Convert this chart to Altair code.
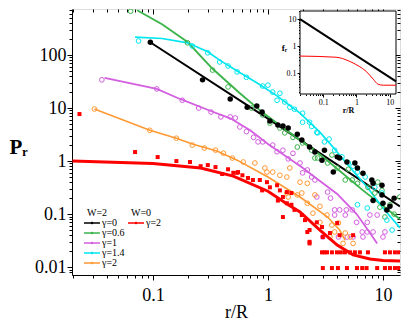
import altair as alt
import pandas as pd

# ---------------- main panel data ----------------
series_w2 = ["γ=0", "γ=0.6", "γ=1", "γ=1.4", "γ=2"]
colors_w2 = ["#000000", "#3cb44b", "#d35fe0", "#00e6ef", "#ff9933"]
widths_w2 = [2.0, 1.6, 1.6, 1.6, 1.6]
series_w0 = ["γ=2"]
colors_w0 = ["#ff0000"]

# gamma = 0 (black, filled)
bk_line_r = [0.094, 1.0, 14.06]
bk_line_v = [176, 6.3, 0.14]
bk_pts_r = [0.095, 0.27, 0.47, 0.66, 0.8, 0.89, 1.04, 1.22, 1.35, 1.5, 1.8, 1.97, 2.3, 2.56,
            2.95, 3.1, 3.7, 4.0, 4.2, 4.86, 5.7, 6.0, 6.7, 8.0, 8.2, 9.8, 9.8, 10.8, 8.2, 10.0,
            11.5, 12.5]
bk_pts_v = [175, 34, 14.8, 10.4, 10.9, 8.4, 5.7, 4.8, 4.6, 4.2, 3.2, 2.5, 1.84, 1.48,
            1.04, 1.6, 0.62, 1.2, 1.14, 0.96, 0.92, 0.74, 0.59, 0.44, 0.38, 0.35, 0.23, 0.12, 0.18, 0.16,
            0.14, 0.2]

# gamma = 0.6 (green, open)
gr_line_r = [0.073, 0.12, 0.2, 0.33, 0.57, 0.9, 1.5, 3.0, 6.7, 14.06]
gr_line_v = [700, 380, 176, 55, 19, 8.2, 3.6, 1.2, 0.28, 0.08]
gr_pts_r = [0.064, 0.2, 0.33, 0.45, 0.72, 0.9, 1.04, 1.27, 1.4, 1.65, 1.8, 2.0, 2.4, 2.56, 2.7,
            3.3, 4.0, 4.7, 5.4, 6.0, 7.4, 9.0, 9.8, 9.4, 10.4, 14.0, 3.6, 5.0, 8.5, 11.5, 12.5]
gr_pts_v = [670, 170, 52, 25, 10, 7.4, 5.2, 4.2, 3.4, 2.8, 1.84, 2.2, 1.6, 1.14, 1.14,
            0.92, 0.74, 0.44, 0.44, 0.38, 0.32, 0.4, 0.28, 0.135, 0.088, 0.21, 1.3, 0.7, 0.25, 0.15, 0.1]

# gamma = 1 (magenta, open)
mg_line_r = [0.038, 0.108, 0.17, 0.31, 0.47, 0.7, 1.0, 2.0, 2.83, 4.0, 5.9, 7.5, 8.9]
mg_line_v = [37, 23, 15, 9, 6.4, 3.8, 2.1, 0.75, 0.42, 0.24, 0.1, 0.048, 0.028]
mg_pts_r = [0.036, 0.108, 0.18, 0.25, 0.32, 0.39, 0.47, 0.52, 0.57, 0.82, 0.9, 1.1, 1.35, 1.65,
            1.9, 2.2, 2.56, 2.66, 3.3, 3.8, 4.2, 4.8, 5.4, 3.8, 4.7, 5.9, 7.3, 6.6, 7.3, 8.2,
            3.0, 4.1, 4.9, 5.5, 6.7, 10.0, 10.4, 8.9, 7.7, 0.65, 0.75, 1.2, 1.5, 2.0, 2.4, 3.5]
mg_pts_v = [34, 23, 14, 10, 8.4, 6.8, 6.8, 6.5, 4.4, 2.3, 2.3, 2.0, 1.6, 1.4,
            0.92, 0.68, 0.44, 0.21, 0.26, 0.12, 0.12, 0.12, 0.12, 0.096, 0.096, 0.07, 0.07, 0.046, 0.046, 0.046,
            0.037, 0.037, 0.037, 0.037, 0.037, 0.037, 0.046, 0.096, 0.096, 3.6, 2.8, 1.5, 1.1, 0.6, 0.5, 0.2]

# gamma = 1.4 (cyan, open)
cy_line_r = [0.07, 0.12, 0.2, 0.3, 0.38, 0.54, 0.8, 1.2, 1.9, 2.8, 3.7, 5.2, 7.3, 10.0, 14.06]
cy_line_v = [218, 205, 170, 115, 80, 50, 30, 17, 8, 3.6, 1.8, 0.75, 0.32, 0.13, 0.055]
cy_pts_r = [0.075, 0.22, 0.38, 0.54, 1.0, 1.2, 1.27, 1.55, 2.0, 2.0, 2.3, 2.66, 2.7, 3.1, 3.8,
            5.0, 6.0, 7.0, 8.5, 9.8, 6.0, 7.3, 10.8, 12.0, 0.3, 0.45, 0.65, 0.9, 1.1, 1.4,
            1.7, 2.4, 3.4, 4.4, 5.5]
cy_pts_v = [184, 148, 74, 48, 27, 14, 19, 10.4, 8.0, 5.4, 5.4, 3.5, 3.4, 2.3, 1.6,
            0.92, 0.62, 0.5, 0.32, 0.25, 0.15, 0.13, 0.077, 0.05, 110, 62, 38, 26, 20, 13,
            9.5, 4.5, 2.6, 1.2, 0.8]

# gamma = 2, W = 2 (orange, open)
or_line_r = [0.031, 0.094, 0.16, 0.22, 0.36, 0.54, 1.0, 1.9, 3.3, 4.2, 4.7]
or_line_v = [9.6, 3.8, 2.7, 2.1, 1.55, 1.04, 0.5, 0.21, 0.088, 0.05, 0.032]
or_pts_r = [0.031, 0.094, 0.16, 0.22, 0.28, 0.35, 0.41, 0.49, 0.61, 0.77, 0.94, 0.98, 1.1, 1.27,
            1.46, 1.55, 1.9, 2.2, 1.5, 1.97, 1.46, 1.8, 2.56, 2.2, 2.83, 2.46, 3.26, 2.83, 3.6,
            4.1, 3.8, 4.7, 3.46, 4.5, 5.5, 5.2]
or_pts_v = [9.6, 3.8, 2.7, 2.0, 1.76, 1.61, 1.41, 1.14, 0.96, 0.92, 0.74, 0.62, 0.62, 0.54,
            0.5, 0.74, 0.4, 0.38, 0.21, 0.25, 0.25, 0.23, 0.23, 0.16, 0.14, 0.104, 0.096, 0.07, 0.062,
            0.068, 0.046, 0.044, 0.037, 0.028, 0.028, 0.037]

# gamma = 2, W = 0 (red, filled squares)
rd_line_r = [0.02, 0.1, 0.26, 0.5, 1.0, 1.5, 1.9, 2.83, 4.0, 5.5, 7.7, 10.0, 14.06]
rd_line_v = [1.0, 0.9, 0.74, 0.52, 0.27, 0.15, 0.11, 0.05, 0.026, 0.017, 0.0142, 0.0133, 0.013]
rd_pts_r = [0.023, 0.07, 0.11, 0.16, 0.21, 0.26, 0.3, 0.35, 0.4, 0.45, 0.5, 0.54, 0.55, 0.6,
            0.67, 0.74, 0.85, 0.89, 0.98, 1.04, 1.2, 1.27, 1.46, 1.6, 1.35, 1.22, 1.35, 1.46,
            1.6, 1.7, 1.97, 2.1, 2.3, 2.66, 2.95, 3.0, 3.46, 4.2, 2.2, 2.3, 4.0, 5.5, 2.3,
            2.95, 3.1, 3.26, 3.6, 3.98, 4.3, 4.67, 5.16, 5.7, 6.3, 7.4, 10.4, 11.5, 12.7, 13.8,
            3.0, 3.6, 4.06, 4.86, 5.94, 6.6, 7.2, 8.9, 10.4, 11.5, 12.7, 13.8]
rd_pts_v = [7.7, 1.48, 1.19, 1.0, 0.96, 0.8, 0.84, 0.77, 0.57, 0.7, 0.6, 0.6, 0.62, 0.54,
            0.48, 0.44, 0.44, 0.28, 0.4, 0.32, 0.35, 0.28, 0.26, 0.25, 0.21, 0.18, 0.088, 0.16,
            0.15, 0.12, 0.096, 0.077, 0.05, 0.07, 0.057, 0.037, 0.044, 0.04, 0.046, 0.03, 0.068, 0.04, 0.028,
            0.019, 0.019, 0.019, 0.019, 0.019, 0.019, 0.019, 0.019, 0.019, 0.019, 0.019, 0.019, 0.019, 0.019, 0.019,
            0.0096, 0.0096, 0.0096, 0.0096, 0.0096, 0.0096, 0.0096, 0.0096, 0.0096, 0.0096, 0.0096, 0.0096]

# ---------------- inset data ----------------
in_bk_r = [0.02, 15.5]
in_bk_v = [10, 0.05]
in_rd_r = [0.02, 0.245, 0.6, 1.2, 1.95, 3.2, 4.5, 6.4, 15.5]
in_rd_v = [0.43, 0.39, 0.28, 0.18, 0.118, 0.06, 0.039, 0.036, 0.036]
in_x_domain = [0.02, 15.5]
in_y_domain = [0.017, 20]

# ---------------- helpers ----------------
FONT = "Liberation Serif"
IS_MAJOR = "abs(log(datum.value)/LN10 - round(log(datum.value)/LN10)) < 0.001"
LABEL_EXPR = IS_MAJOR + " ? format(datum.value, '~g') : ''"


def tick_values(lo, hi):
    out = []
    for e in range(-3, 3):
        for k in range(1, 10):
            t = round(k * 10 ** e, 6)
            if lo <= t <= hi:
                out.append(t)
    return out


X_DOMAIN = [0.0198, 14.06]
Y_DOMAIN = [0.0071, 738]
xticks = tick_values(*X_DOMAIN)
yticks = tick_values(*Y_DOMAIN)

xscale = alt.Scale(type="log", domain=X_DOMAIN, nice=False)
yscale = alt.Scale(type="log", domain=Y_DOMAIN, nice=False)

x_axis = alt.Axis(values=xticks, labelExpr=LABEL_EXPR, grid=False, orient="bottom",
                  tickSize={"condition": {"test": IS_MAJOR, "value": 5}, "value": 3},
                  labelPadding=6, labelFont=FONT, labelFontSize=18, labelColor="black",
                  labelBaseline="top", labelFlush=False,
                  title="r/R", titleFont=FONT, titleFontSize=18, titleFontWeight="normal",
                  titleColor="black", titleBaseline="alphabetic", titleY=42,
                  domainColor="black", tickColor="black")
y_axis = alt.Axis(values=yticks, labelExpr=LABEL_EXPR, grid=False, orient="left",
                  tickSize={"condition": {"test": IS_MAJOR, "value": 5}, "value": 3},
                  labelPadding=1, labelFont=FONT, labelFontSize=18, labelColor="black",
                  labelFlush=False,
                  title="Pᵣ", titleFont=FONT, titleFontSize=21, titleFontWeight="bold",
                  titleColor="black", titleAngle=0, titleAlign="left",
                  titleBaseline="middle", titleX=-63, titleY=138,
                  domainColor="black", tickColor="black")

X = alt.X("r:Q", scale=xscale, axis=x_axis)
Y = alt.Y("v:Q", scale=yscale, axis=y_axis)

# short line with a dot, twice as wide as the symbol box
SYMBOL = "M-2,0L2,0M-0.18,0A0.18,0.18,0,1,1,0.18,0A0.18,0.18,0,1,1,-0.18,0Z"


def legend(title, lx, ly):
    return alt.Legend(title=title, orient="none", legendX=lx, legendY=ly, padding=0,
                      titleFont=FONT, titleFontSize=10, titleFontWeight="normal",
                      titleColor="black", titlePadding=0,
                      labelFont=FONT, labelFontSize=10, labelColor="black", labelOffset=5,
                      symbolType=SYMBOL, symbolSize=64, symbolStrokeWidth=1.3,
                      rowPadding=0)


def frame(rs, vs, name):
    return pd.DataFrame({"r": rs, "v": vs, "s": name})


lines_w2 = pd.concat([frame(bk_line_r, bk_line_v, series_w2[0]),
                      frame(gr_line_r, gr_line_v, series_w2[1]),
                      frame(mg_line_r, mg_line_v, series_w2[2]),
                      frame(cy_line_r, cy_line_v, series_w2[3]),
                      frame(or_line_r, or_line_v, series_w2[4])])
open_w2 = pd.concat([frame(gr_pts_r, gr_pts_v, series_w2[1]),
                     frame(mg_pts_r, mg_pts_v, series_w2[2]),
                     frame(cy_pts_r, cy_pts_v, series_w2[3]),
                     frame(or_pts_r, or_pts_v, series_w2[4])])
filled_w2 = frame(bk_pts_r, bk_pts_v, series_w2[0])

C2 = alt.Color("s:N", scale=alt.Scale(domain=series_w2, range=colors_w2),
               legend=legend("W=2", 15, 199))
C0 = alt.Color("s:N", scale=alt.Scale(domain=series_w0, range=colors_w0),
               legend=legend("W=0", 59, 199))

w2_lines = alt.Chart(lines_w2).mark_line(clip=True).encode(
    x=X, y=Y, color=C2, detail="s:N",
    strokeWidth=alt.StrokeWidth("s:N", scale=alt.Scale(domain=series_w2, range=widths_w2), legend=None))
w2_open = alt.Chart(open_w2).mark_point(shape="circle", filled=False, size=22, strokeWidth=1,
                                        opacity=1, clip=True).encode(x=X, y=Y, color=C2)
w2_fill = alt.Chart(filled_w2).mark_circle(size=30, opacity=1, clip=True).encode(x=X, y=Y, color=C2)
w2_group = alt.layer(w2_lines, w2_open, w2_fill)

w0_line = alt.Chart(frame(rd_line_r, rd_line_v, series_w0[0])).mark_line(
    strokeWidth=3, clip=True).encode(x=X, y=Y, color=C0)
w0_pts = alt.Chart(frame(rd_pts_r, rd_pts_v, series_w0[0])).mark_square(
    size=16, opacity=1, clip=True).encode(x=X, y=Y, color=C0)
w0_group = alt.layer(w0_line, w0_pts)

plot_group = alt.layer(w2_group, w0_group).resolve_scale(color="independent")

mirror_tick = {"condition": {"test": IS_MAJOR, "expr": "-5"}, "expr": "-3"}
mirror = alt.Chart(filled_w2).mark_point(opacity=0).encode(
    x=alt.X("r:Q", scale=xscale, axis=alt.Axis(orient="top", values=xticks, labels=False,
                                               title="", grid=False, domain=False,
                                               tickSize=mirror_tick, tickColor="black")),
    y=alt.Y("v:Q", scale=yscale, axis=alt.Axis(orient="right", values=yticks, labels=False,
                                               title="", grid=False, domain=False,
                                               tickSize=mirror_tick, tickColor="black")))

main_group = alt.layer(plot_group, mirror).resolve_axis(x="independent", y="independent")

# ---------------- inset ----------------
ixscale = alt.Scale(type="log", domain=in_x_domain, range=[228, 324], nice=False)
iyscale = alt.Scale(type="log", domain=in_y_domain, range=[85, 2], nice=False)
ix_axis = alt.Axis(orient="bottom", offset=-181, values=tick_values(*in_x_domain),
                   labelExpr=LABEL_EXPR, grid=False, domain=False,
                   tickSize={"condition": {"test": IS_MAJOR, "value": 3}, "value": 1.5},
                   labelFont=FONT, labelFontSize=8, labelColor="black", labelPadding=1,
                   labelFlush=False, title="r/R", titleFont=FONT, titleFontSize=8,
                   titleFontWeight="bold", titleColor="black", titlePadding=0, tickColor="black")
iy_axis = alt.Axis(orient="left", offset=-228, values=tick_values(*in_y_domain),
                   labelExpr=LABEL_EXPR, grid=False, domain=False,
                   tickSize={"condition": {"test": IS_MAJOR, "value": 3}, "value": 1.5},
                   labelFont=FONT, labelFontSize=8, labelColor="black", labelPadding=1,
                   labelFlush=False, title="fᵣ", titleFont=FONT, titleFontSize=9,
                   titleFontWeight="bold", titleColor="black", titleAngle=0, titlePadding=2,
                   tickColor="black")

inset_box = alt.Chart(pd.DataFrame({"x1": [in_x_domain[0]], "x2": [in_x_domain[1]],
                                    "y1": [in_y_domain[0]], "y2": [in_y_domain[1]]})).mark_rect(
    fill="white", stroke="black", strokeWidth=1).encode(
    x=alt.X("x1:Q", scale=ixscale, axis=ix_axis), x2="x2:Q",
    y=alt.Y("y1:Q", scale=iyscale, axis=iy_axis), y2="y2:Q")
IX = alt.X("r:Q", scale=ixscale, axis=ix_axis)
IY = alt.Y("v:Q", scale=iyscale, axis=iy_axis)
inset_bk = alt.Chart(pd.DataFrame({"r": in_bk_r, "v": in_bk_v})).mark_line(
    color="black", strokeWidth=2).encode(x=IX, y=IY)
inset_rd = alt.Chart(pd.DataFrame({"r": in_rd_r, "v": in_rd_v})).mark_line(
    color="#ff0000", strokeWidth=1, interpolate="monotone").encode(x=IX, y=IY)
inset_group = alt.layer(inset_box, inset_bk, inset_rd)

chart = alt.layer(main_group, inset_group).resolve_scale(
    x="independent", y="independent").properties(
    width=328, height=266,
    autosize=alt.AutoSizeParams(type="none"),
    padding={"left": 64, "top": 1, "right": 1, "bottom": 48},
).configure_view(stroke="black", strokeWidth=1.2).configure(background="white")

chart.save("out.html", embed_options={"renderer": "svg", "actions": False})
